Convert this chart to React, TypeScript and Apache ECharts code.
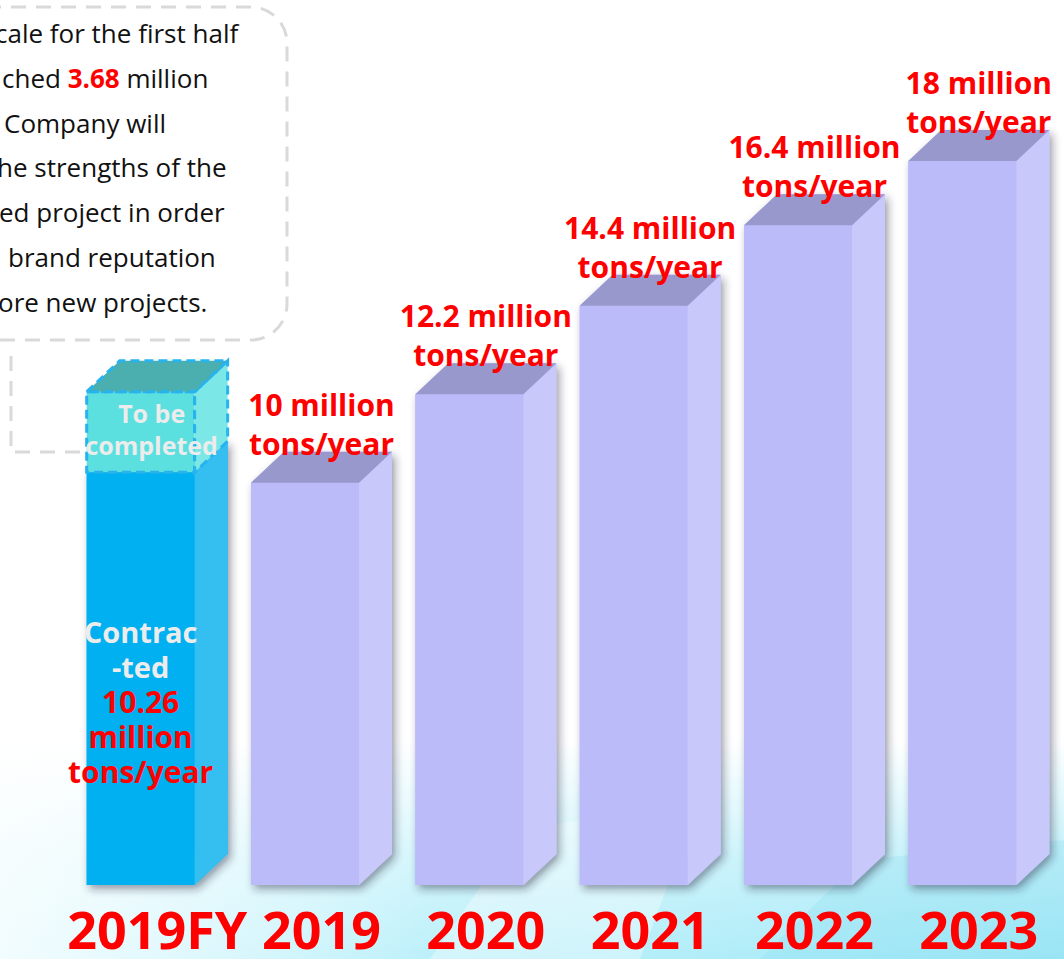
import React, { useEffect, useRef } from "react";
import * as echarts from "echarts";

const categories = ["2019FY", "2019", "2020", "2021", "2022", "2023"];
const capacity = [10.26, 10, 12.2, 14.4, 16.4, 18];
const toBeCompleted = [2.0];
const unitLine1 = " million";
const unitLine2 = "tons/year";
const noteLines = [
  "cale for the first half",
  "ched {r|3.68} million",
  "Company will",
  "he strengths of the",
  "ed project in order",
  "brand reputation",
  "ore new projects.",
];
const noteX = [-5, 2, 4, -3, -1, 8, -2];

const RED = "#ff0000";
const FONT = '"Open Sans", "Noto Sans", "DejaVu Sans", sans-serif';
const DX = 33;
const DY = 31;

function cube(api: any, idx: number, lo: number, hi: number, c: any, extra: any[], dashed: boolean) {
  const base = api.coord([idx, lo]);
  const top = api.coord([idx, hi]);
  const band = api.size([1, 0])[0];
  const w = band * 0.657;
  const cx = base[0] - DX / 2;
  const x0 = cx - w / 2;
  const x1 = cx + w / 2;
  const yT = top[1];
  const yB = base[1];
  const stroke = dashed
    ? { stroke: "#27b3ee", lineWidth: 3, lineDash: [9, 5] }
    : { stroke: null, lineWidth: 0 };
  const children: any[] = [];
  if (!dashed) {
    children.push({
      type: "polygon",
      shape: {
        points: [
          [x0, yT],
          [x0 + DX, yT - DY],
          [x1 + DX, yT - DY],
          [x1 + DX, yB - DY],
          [x1, yB],
          [x0, yB],
        ],
      },
      style: {
        fill: c.front,
        shadowBlur: 8,
        shadowOffsetX: 3,
        shadowOffsetY: 4,
        shadowColor: "rgba(40,40,60,0.45)",
      },
    });
  }
  children.push(
    {
      type: "rect",
      shape: { x: x0, y: yT, width: w, height: yB - yT },
      style: { fill: c.front, ...stroke },
    },
    {
      type: "polygon",
      shape: {
        points: [
          [x1, yT],
          [x1 + DX, yT - DY],
          [x1 + DX, yB - DY],
          [x1, yB],
        ],
      },
      style: { fill: c.side, ...stroke },
    },
    {
      type: "polygon",
      shape: {
        points: [
          [x0, yT],
          [x0 + DX, yT - DY],
          [x1 + DX, yT - DY],
          [x1, yT],
        ],
      },
      style: { fill: c.top, ...stroke },
    }
  );
  return { type: "group", children: children.concat(extra.map((f) => f({ cx, x0, x1, yT, yB }))) };
}

export default function App() {
  const ref = useRef<HTMLDivElement>(null);
  useEffect(() => {
    if (!ref.current) return;
    const chart = echarts.init(ref.current, undefined, { renderer: "svg" });
    const purple = { front: "#bbbbfa", side: "#c8c8fa", top: "#9898cc" };
    const blue = { front: "#00b0f0", side: "#35bff0", top: "#1ea0d8" };
    const cyan = { front: "#5cdfdf", side: "#7ce7e7", top: "#4aafae" };

    const option: any = {
      animation: false,
      backgroundColor: "#ffffff",
      grid: { left: 75, right: 3, top: 0, bottom: 74, containLabel: false },
      xAxis: {
        type: "category",
        data: categories,
        axisLine: { show: false },
        axisTick: { show: false },
        axisLabel: {
          interval: 0,
          color: RED,
          fontWeight: "bold",
          fontSize: 52,
          lineHeight: 50,
          fontFamily: FONT,
          margin: 18,
        },
      },
      yAxis: { type: "value", min: 0, max: 22, show: false, splitLine: { show: false } },
      graphic: [
        {
          type: "rect",
          z: 0,
          silent: true,
          shape: { x: 0, y: 740, width: 1064, height: 219 },
          style: {
            fill: new echarts.graphic.LinearGradient(0, 0, 1, 0, [
              { offset: 0, color: "rgba(200,244,252,0.25)" },
              { offset: 0.4, color: "rgba(160,234,248,0.7)" },
              { offset: 1, color: "rgba(150,230,246,0.9)" },
            ]),
          },
        },
        {
          type: "rect",
          z: 0,
          silent: true,
          shape: { x: 0, y: 740, width: 1064, height: 219 },
          style: {
            fill: new echarts.graphic.LinearGradient(0, 0, 0, 1, [
              { offset: 0, color: "rgba(255,255,255,1)" },
              { offset: 0.55, color: "rgba(255,255,255,0.35)" },
              { offset: 1, color: "rgba(255,255,255,0)" },
            ]),
          },
        },
        {
          type: "polygon",
          z: 0,
          silent: true,
          shape: { points: [[430, 959], [520, 830], [700, 800], [640, 959]] },
          style: { fill: "rgba(255,255,255,0.35)" },
        },
        {
          type: "polygon",
          z: 0,
          silent: true,
          shape: { points: [[760, 959], [860, 860], [1064, 840], [1064, 959]] },
          style: { fill: "rgba(130,220,240,0.25)" },
        },
        {
          type: "rect",
          z: 1,
          silent: true,
          shape: { x: -300, y: 7, width: 587, height: 333, r: 36 },
          style: { fill: "none", stroke: "#d9d9d9", lineWidth: 3, lineDash: [15, 10] },
        },
        {
          type: "polyline",
          z: 1,
          silent: true,
          shape: { points: [[11, 356], [11, 452], [92, 452]] },
          style: { fill: "none", stroke: "#d9d9d9", lineWidth: 3, lineDash: [15, 10] },
        },
        ...noteLines.map((t, i) => ({
          type: "text",
          z: 5,
          silent: true,
          x: noteX[i],
          y: 33 + i * 44.8,
          style: {
            text: t,
            fill: "#111111",
            font: `26px ${FONT}`,
            textAlign: "left",
            textVerticalAlign: "middle",
            rich: {
              r: { fill: RED, fontWeight: "bold", fontSize: 26, fontFamily: FONT },
            },
          },
        })),
      ],
      series: [
        {
          type: "custom",
          name: "capacity",
          z: 3,
          data: capacity.map((v, i) => [i, v]),
          renderItem: (params: any, api: any) => {
            const idx = api.value(0);
            const v = api.value(1);
            if (idx === 0) {
              return cube(api, idx, 0, v, blue, [
                (g: any) => ({
                  type: "text",
                  style: {
                    x: g.cx,
                    y: g.yB - 184,
                    text: `{w|Contrac}\n{w|-ted}\n{r|${v}}\n{r|${unitLine1.trim()}}\n{r|${unitLine2}}`,
                    textAlign: "center",
                    textVerticalAlign: "middle",
                    rich: {
                      w: { fill: "#ececec", fontSize: 29, fontWeight: "bold", fontFamily: FONT, lineHeight: 35, align: "center" },
                      r: { fill: RED, fontSize: 30, fontWeight: "bold", fontFamily: FONT, lineHeight: 35, align: "center" },
                    },
                  },
                }),
              ], false);
            }
            return cube(api, idx, 0, v, purple, [
              (g: any) => ({
                type: "text",
                style: {
                  x: g.cx + DX / 2,
                  y: g.yT - 20,
                  text: `${v}${unitLine1}\n${unitLine2}`,
                  textAlign: "center",
                  textVerticalAlign: "bottom",
                  fill: RED,
                  fontSize: 30,
                  fontWeight: "bold",
                  fontFamily: FONT,
                  lineHeight: 39,
                },
              }),
            ], false);
          },
        },
        {
          type: "custom",
          name: "toBeCompleted",
          z: 4,
          data: toBeCompleted.map((v, i) => [i, capacity[i], capacity[i] + v]),
          renderItem: (params: any, api: any) => {
            const idx = api.value(0);
            return cube(api, idx, api.value(1), api.value(2), cyan, [
              (g: any) => ({
                type: "text",
                style: {
                  x: g.cx + 11,
                  y: (g.yT + g.yB) / 2 - 3,
                  text: "To be\ncompleted",
                  textAlign: "center",
                  textVerticalAlign: "middle",
                  fill: "#ececec",
                  fontSize: 25,
                  fontWeight: "bold",
                  fontFamily: FONT,
                  lineHeight: 32,
                },
              }),
            ], true);
          },
        },
      ],
    };
    chart.setOption(option);
    return () => chart.dispose();
  }, []);
  return (
    <div
      ref={ref}
      style={{ position: "fixed", left: 0, top: 0, width: 1064, height: 959 }}
    />
  );
}
